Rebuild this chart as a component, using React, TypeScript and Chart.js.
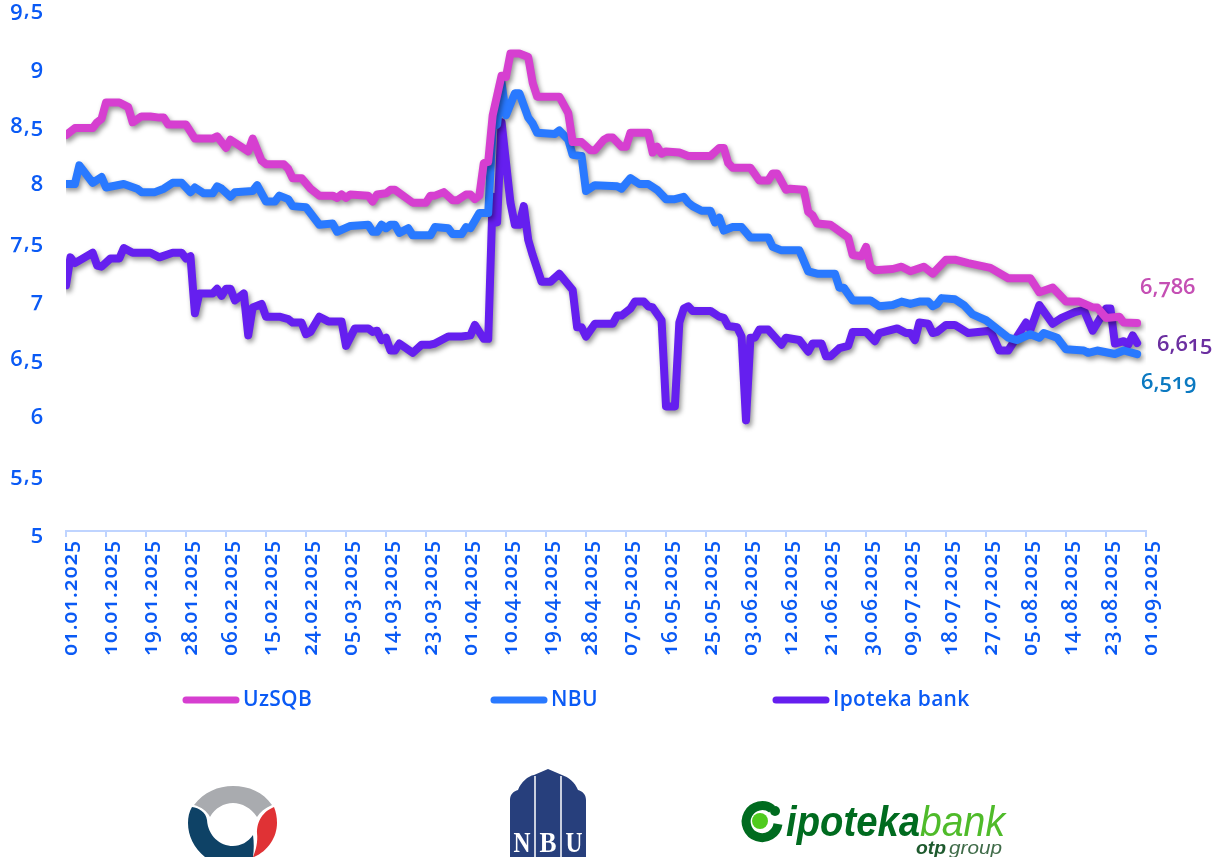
import React, { useEffect, useRef } from "react";
import { Chart, registerables } from "chart.js";

Chart.register(...registerables);

const tickLabels = ["01.01.2025","10.01.2025","19.01.2025","28.01.2025","06.02.2025","15.02.2025","24.02.2025","05.03.2025","14.03.2025","23.03.2025","01.04.2025","10.04.2025","19.04.2025","28.04.2025","07.05.2025","16.05.2025","25.05.2025","03.06.2025","12.06.2025","21.06.2025","30.06.2025","09.07.2025","18.07.2025","27.07.2025","05.08.2025","14.08.2025","23.08.2025","01.09.2025"];

const uzDays = [0,2,6,7,8,9,12,14,15,17,19,21,22,23,27,29,33,34,36,37,41,42,44,45,49,50,51,53,55,57,60,61,62,63,64,68,69,70,72,73,74,78,81,82,83,85,87,88,90,91,92,93,94,95,96,98,99,100,102,104,105,106,111,113,114,116,118,119,121,122,123,125,126,127,131,132,133,134,135,138,140,145,147,148,149,150,154,156,158,159,160,162,163,166,167,168,169,172,176,177,179,180,181,182,186,188,190,193,195,198,200,203,208,212,217,219,222,225,228,231,232,234,237,238,241];
const uzValues = [8.40,8.46,8.46,8.51,8.54,8.68,8.68,8.64,8.51,8.56,8.56,8.55,8.55,8.49,8.49,8.37,8.37,8.39,8.29,8.36,8.26,8.37,8.18,8.15,8.15,8.11,8.03,8.03,7.94,7.88,7.88,7.86,7.89,7.86,7.89,7.88,7.83,7.89,7.90,7.93,7.93,7.82,7.82,7.88,7.88,7.91,7.84,7.84,7.89,7.89,7.85,7.88,8.16,8.17,8.57,8.91,8.90,9.10,9.10,9.07,8.85,8.73,8.73,8.59,8.34,8.34,8.27,8.27,8.36,8.38,8.38,8.30,8.30,8.42,8.42,8.25,8.30,8.24,8.26,8.25,8.22,8.22,8.29,8.29,8.16,8.12,8.12,8.01,8.01,8.07,8.07,7.93,7.94,7.93,7.74,7.71,7.64,7.63,7.52,7.37,7.36,7.44,7.27,7.24,7.25,7.27,7.23,7.27,7.21,7.33,7.33,7.30,7.26,7.17,7.17,7.05,7.09,6.97,6.97,6.92,6.92,6.83,6.84,6.79,6.786];

const nbuDays = [0,2,3,6,8,9,13,16,17,20,22,24,26,28,29,31,33,34,35,37,38,42,43,45,47,48,50,51,54,57,60,61,64,68,69,70,71,72,73,74,75,77,78,82,83,86,87,89,90,91,93,95,96,97,98,99,101,102,104,105,106,110,111,113,114,116,117,119,124,125,127,129,131,133,135,137,139,140,141,143,145,146,147,148,150,152,154,158,159,161,165,167,169,173,174,175,177,181,183,186,188,190,192,194,195,196,197,200,202,204,207,209,212,214,217,219,220,223,225,229,230,232,236,238,241];
const nbuValues = [7.98,7.98,8.14,7.99,8.04,7.95,7.98,7.94,7.91,7.91,7.94,7.99,7.99,7.91,7.95,7.90,7.90,7.96,7.94,7.87,7.91,7.92,7.97,7.83,7.83,7.88,7.85,7.79,7.78,7.63,7.64,7.57,7.62,7.63,7.57,7.57,7.63,7.60,7.63,7.63,7.56,7.60,7.54,7.54,7.61,7.60,7.55,7.55,7.61,7.60,7.73,7.73,8.47,8.49,8.85,8.57,8.76,8.76,8.55,8.50,8.42,8.41,8.44,8.36,8.23,8.22,7.92,7.97,7.96,7.94,8.03,7.98,7.98,7.93,7.85,7.85,7.87,7.82,7.79,7.75,7.75,7.65,7.69,7.58,7.61,7.61,7.52,7.52,7.44,7.41,7.41,7.23,7.21,7.21,7.09,7.09,6.98,6.98,6.93,6.94,6.97,6.95,6.97,6.97,6.93,6.95,7.00,6.99,6.94,6.86,6.81,6.75,6.66,6.64,6.69,6.66,6.70,6.66,6.56,6.55,6.53,6.55,6.52,6.55,6.519];

const ipoDays = [0,1,2,6,7,8,10,12,13,15,19,21,24,26,27,28,29,30,33,34,35,36,37,38,40,41,42,44,45,48,50,51,53,54,55,57,59,62,63,65,68,69,70,71,72,73,74,75,78,80,82,83,86,89,91,92,94,95,96,97,98,100,101,102,103,104,105,107,109,111,114,115,116,117,119,123,124,125,127,128,130,131,132,134,135,137,138,139,140,141,145,147,148,149,151,152,153,154,155,156,158,161,162,165,167,168,170,171,172,174,176,177,180,182,183,187,189,190,191,192,194,195,196,198,200,203,208,210,212,216,217,219,222,224,227,229,231,234,235,236,238,239,240,241];
const ipoValues = [7.11,7.35,7.30,7.39,7.28,7.27,7.34,7.34,7.43,7.39,7.39,7.35,7.39,7.39,7.34,7.36,6.87,7.04,7.04,7.08,7.02,7.08,7.08,6.98,7.04,6.68,6.92,6.95,6.84,6.84,6.82,6.79,6.79,6.69,6.71,6.84,6.80,6.80,6.59,6.74,6.74,6.71,6.72,6.64,6.66,6.55,6.55,6.61,6.53,6.60,6.60,6.61,6.67,6.67,6.68,6.77,6.65,6.65,7.87,7.65,8.51,7.82,7.63,7.63,7.79,7.50,7.37,7.14,7.14,7.21,7.07,6.75,6.75,6.67,6.78,6.78,6.85,6.85,6.91,6.97,6.97,6.93,6.92,6.81,6.07,6.07,6.79,6.91,6.93,6.89,6.89,6.84,6.83,6.76,6.75,6.67,5.95,6.66,6.66,6.73,6.73,6.60,6.66,6.64,6.54,6.61,6.61,6.50,6.50,6.57,6.59,6.71,6.71,6.63,6.70,6.74,6.70,6.70,6.64,6.79,6.78,6.70,6.71,6.77,6.77,6.70,6.72,6.55,6.55,6.79,6.73,6.94,6.78,6.83,6.88,6.90,6.72,6.91,6.91,6.61,6.63,6.60,6.68,6.615];

const seriesNames = ["UzSQB", "NBU", "Ipoteka bank"];
const seriesColors = ["#D63FD0", "#2979FF", "#651FEF"];
const endLabels = ["6,786", "6,519", "6,615"];
const endLabelColors = ["#C54FB4", "#0B79C1", "#6B2FA0"];
const FONT = "'Open Sans', 'Noto Sans', sans-serif";
const BLUE_TEXT = "#0A5AF5";

const pairs = (days: number[], values: number[]) => days.map((d, i) => ({ x: d, y: values[i] }));

const spacing = {
  id: "spacing",
  beforeDraw(chart: any) {
    chart.ctx.letterSpacing = "1px";
  },
};

const lineShadow = {
  id: "lineShadow",
  beforeDatasetDraw(chart: any) {
    const c = chart.ctx;
    c.save();
    c.shadowColor = "rgba(0,0,0,0.42)";
    c.shadowBlur = 5;
    c.shadowOffsetX = 2;
    c.shadowOffsetY = 3;
  },
  afterDatasetDraw(chart: any) {
    chart.ctx.restore();
  },
};

const endLabelPlugin = {
  id: "endLabelPlugin",
  afterDatasetsDraw(chart: any) {
    const c = chart.ctx;
    const offs = [[3, -35], [4, 29], [20, 2]];
    c.save();
    c.letterSpacing = "0px";
    c.font = `600 22px ${FONT}`;
    c.textBaseline = "middle";
    c.textAlign = "left";
    chart.data.datasets.forEach((ds: any, i: number) => {
      const last = ds.data[ds.data.length - 1];
      const px = chart.scales.x.getPixelForValue(last.x);
      const py = chart.scales.y.getPixelForValue(last.y);
      c.fillStyle = endLabelColors[i];
      c.fillText(endLabels[i], px + offs[i][0], py + offs[i][1]);
    });
    c.restore();
  },
};

const swatchLegend = {
  id: "swatchLegend",
  afterDraw(chart: any) {
    const c = chart.ctx;
    const starts = [186, 494, 776];
    c.save();
    c.letterSpacing = "0.3px";
    c.font = `600 21px ${FONT}`;
    c.textBaseline = "middle";
    c.textAlign = "left";
    c.lineCap = "round";
    c.lineWidth = 7;
    chart.data.datasets.forEach((ds: any, i: number) => {
      c.strokeStyle = ds.borderColor;
      c.beginPath();
      c.moveTo(starts[i], 700);
      c.lineTo(starts[i] + 50, 700);
      c.stroke();
      c.fillStyle = BLUE_TEXT;
      c.fillText(ds.label, starts[i] + 57, 700);
    });
    c.restore();
  },
};

function UzLogo() {
  return (
    <svg width="130" height="87" viewBox="170 770 130 87" style={{ position: "absolute", left: 170, top: 770 }}>
      <path d="M194 805 C204 792 218 786 233 786 C249 786 263 792 272 805 C265 808 260 812 257 817 C251 808 242 803 233 803 C224 803 215 808 210 817 C207 811 201 807 194 805 Z" fill="#A9ABAF" />
      <path d="M192 807 C199 808 206 812 207 820 C208 836 220 846 233 846 C241 846 248 842 253 835 C254 842 254 850 253 857 L205 857 C194 848 188 836 188 823 C188 817 189 812 192 807 Z" fill="#0E4266" />
      <path d="M274 807 C276 812 277 817 277 823 C277 837 268 851 254 857 L253 857 C256 850 258 842 257 833 C257 824 260 813 274 807 Z" fill="#E03235" />
    </svg>
  );
}

function NbuLogo() {
  const letter = { textAnchor: "middle", fill: "#FFFFFF", fontFamily: "'Liberation Serif', serif", fontWeight: 700, fontSize: 30, lengthAdjust: "spacingAndGlyphs", textLength: 17 } as any;
  return (
    <svg width="80" height="90" viewBox="508 767 80 90" style={{ position: "absolute", left: 508, top: 767 }}>
      <path d="M510 857 L510 800 C510 794 514 791 518 790 C521 782 528 776 534 775 L548 769 L562 775 C568 777 575 782 578 790 C582 791 586 794 586 800 L586 857 Z" fill="#273F7C" />
      <path d="M535 776 V857 M561 776 V857" stroke="#FFFFFF" strokeWidth="1.5" fill="none" />
      <text x="522" y="852" {...letter}>N</text>
      <text x="548" y="852" {...letter}>B</text>
      <text x="574" y="852" {...letter}>U</text>
    </svg>
  );
}

function IpotekaLogo() {
  return (
    <svg width="280" height="67" viewBox="735 790 280 67" style={{ position: "absolute", left: 735, top: 790 }}>
      <path d="M772 809 A16 16 0 1 0 778 824" fill="none" stroke="#006B1F" strokeWidth="9" />
      <circle cx="760" cy="821" r="8" fill="#4FCB1E" />
      <circle cx="775" cy="811" r="5" fill="#006B1F" />
      <text x="786" y="836" fill="#006B1F" fontFamily="'Liberation Sans', sans-serif" fontWeight="700" fontStyle="italic" fontSize="43" textLength="134" lengthAdjust="spacingAndGlyphs">ipoteka</text>
      <text x="920" y="836" fill="#4FBB2A" fontFamily="'Liberation Sans', sans-serif" fontStyle="italic" fontSize="43" textLength="85" lengthAdjust="spacingAndGlyphs">bank</text>
      <text x="916" y="854" fill="#1E5A2E" fontFamily="'Liberation Sans', sans-serif" fontWeight="700" fontStyle="italic" fontSize="18" textLength="30" lengthAdjust="spacingAndGlyphs">otp</text>
      <text x="949" y="854" fill="#3F6B48" fontFamily="'Liberation Sans', sans-serif" fontStyle="italic" fontSize="18" textLength="53" lengthAdjust="spacingAndGlyphs">group</text>
    </svg>
  );
}

export default function App() {
  const ref = useRef<HTMLCanvasElement | null>(null);
  useEffect(() => {
    if (!ref.current) return;
    const mk = (i: number, days: number[], values: number[]) => ({
      label: seriesNames[i],
      data: pairs(days, values),
      borderColor: seriesColors[i],
      backgroundColor: seriesColors[i],
      borderWidth: 8,
      pointRadius: 0,
      tension: 0,
      borderJoinStyle: "round" as const,
      borderCapStyle: "round" as const,
    });
    const chart = new Chart(ref.current, {
      type: "line",
      data: { datasets: [mk(0, uzDays, uzValues), mk(1, nbuDays, nbuValues), mk(2, ipoDays, ipoValues)] },
      options: {
        animation: false,
        responsive: false,
        layout: { padding: { left: 0, right: 69, top: 7, bottom: 186 } },
        plugins: { legend: { display: false }, tooltip: { enabled: false } },
        scales: {
          x: {
            type: "linear",
            min: 0,
            max: 243,
            afterBuildTicks: (axis: any) => { axis.ticks = tickLabels.map((_, i) => ({ value: i * 9 })); },
            afterFit: (axis: any) => { axis.height = 140; },
            grid: { drawOnChartArea: false, drawTicks: true, tickLength: 6, color: "#BFD4FF", lineWidth: 2 },
            border: { display: true, color: "#BFD4FF", width: 2 },
            ticks: {
              autoSkip: false,
              maxRotation: 90,
              minRotation: 90,
              padding: 3,
              labelOffset: 5,
              color: BLUE_TEXT,
              font: { family: FONT, size: 21, weight: "600" },
              callback: (v: any) => tickLabels[Math.round(Number(v) / 9)],
            },
          },
          y: {
            min: 5,
            max: 9.5,
            afterFit: (axis: any) => { axis.width = 66; axis.paddingTop = 0; axis.paddingBottom = 0; },
            grid: { display: false, drawTicks: false },
            border: { display: false },
            ticks: {
              stepSize: 0.5,
              padding: 22,
              labelOffset: 3,
              color: BLUE_TEXT,
              font: { family: FONT, size: 22, weight: "600" },
              callback: (v: any) => String(v).replace(".", ","),
            },
          },
        },
      },
      plugins: [spacing, lineShadow, endLabelPlugin, swatchLegend],
    } as any);
    return () => chart.destroy();
  }, []);
  return (
    <div style={{ position: "absolute", left: 0, top: 0, width: 1215, height: 857, overflow: "hidden", background: "#fff" }}>
      <canvas
        ref={ref}
        width={1215}
        height={857}
        style={{ display: "block", fontVariantNumeric: "oldstyle-nums", fontFeatureSettings: '"onum" 1' }}
      />
      <UzLogo />
      <NbuLogo />
      <IpotekaLogo />
    </div>
  );
}
